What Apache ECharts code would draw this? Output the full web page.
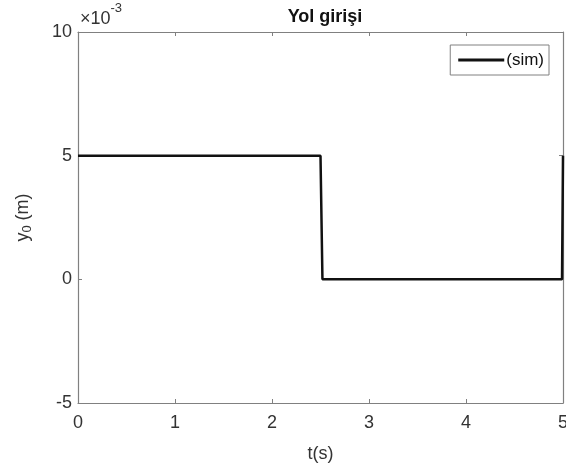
<!DOCTYPE html>
<html>
<head>
<meta charset="utf-8">
<script src="https://cdn.jsdelivr.net/npm/echarts@6.0.0/dist/echarts.min.js"></script>
<style>
  html, body { margin: 0; padding: 0; background: #fff; }
  #chart-container { width: 566px; height: 474px; }
</style>
</head>
<body>
<div id="chart-container"></div>
<script>
// road input (x10^-3 m) versus time (s)
const timeS = [0, 2.5, 2.52, 4.99, 5];
const roadInput = [5, 5, 0, 0, 5];
const seriesName = '(sim)';

const chart = echarts.init(document.getElementById('chart-container'));

const frameColor = '#808080';
const textColor = '#333';
const fontFamily = 'Liberation Sans, Arial, sans-serif';

const frameAxis = {
  axisLine: { show: true, onZero: false, lineStyle: { color: frameColor, width: 1.2 } },
  axisTick: { show: true, inside: true, length: 4, lineStyle: { color: frameColor } },
  splitLine: { show: false }
};

const option = {
  animation: false,
  backgroundColor: '#fff',
  title: {
    text: 'Yol girişi',
    left: 320,
    textAlign: 'center',
    top: 3,
    textStyle: { fontSize: 18, fontWeight: 'bold', color: '#111', fontFamily }
  },
  grid: { left: 78, top: 32, right: 3, bottom: 71, outerBoundsMode: 'none' },
  legend: {
    data: [seriesName],
    right: 17,
    top: 45,
    orient: 'vertical',
    icon: 'rect',
    itemWidth: 46,
    itemHeight: 3,
    padding: [6, 5, 6, 8],
    borderColor: frameColor,
    borderWidth: 1,
    borderRadius: 0,
    textStyle: { fontSize: 17, color: '#111', fontFamily, padding: [0, 0, 0, -3], lineHeight: 18 }
  },
  xAxis: [
    {
      type: 'value', min: 0, max: 5, interval: 1, position: 'bottom',
      name: 't(s)', nameLocation: 'middle', nameGap: 42,
      nameTextStyle: { fontSize: 18, color: textColor, fontFamily },
      axisLabel: { fontSize: 18, color: textColor, fontFamily, margin: 11 },
      ...frameAxis
    },
    {
      type: 'value', min: 0, max: 5, interval: 1, position: 'top',
      axisLabel: { show: false },
      ...frameAxis
    }
  ],
  yAxis: [
    {
      type: 'value', min: -5, max: 10, interval: 5, position: 'left',
      name: '{a|y}{s|0}{a| (m)}', nameLocation: 'middle', nameGap: 44, nameRotate: 90,
      nameTextStyle: {
        color: textColor, fontFamily,
        rich: {
          a: { fontSize: 18, color: textColor, fontFamily },
          s: { fontSize: 13, color: textColor, fontFamily, verticalAlign: 'bottom', padding: [8, 0, 0, 0] }
        }
      },
      axisLabel: { fontSize: 18, color: textColor, fontFamily, margin: 6 },
      ...frameAxis
    },
    {
      type: 'value', min: -5, max: 10, interval: 5, position: 'right',
      axisLabel: { show: false },
      ...frameAxis
    }
  ],
  graphic: [
    {
      type: 'text',
      left: 80,
      top: 2,
      style: {
        text: '{m|×10}{e|-3}',
        rich: {
          m: { fontSize: 18, fill: textColor, fontFamily, padding: [8, 0, 0, 0] },
          e: { fontSize: 13, fill: textColor, fontFamily, verticalAlign: 'top' }
        }
      }
    }
  ],
  series: [
    {
      name: seriesName,
      type: 'line',
      xAxisIndex: 0,
      yAxisIndex: 0,
      data: timeS.map((t, i) => [t, roadInput[i]]),
      showSymbol: false,
      lineStyle: { color: '#111', width: 2.5 },
      itemStyle: { color: '#111' },
      clip: false
    }
  ]
};

chart.setOption(option);
</script>
</body>
</html>
